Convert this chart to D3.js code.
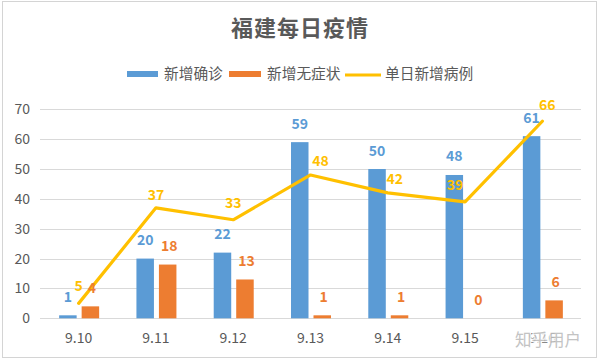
<!DOCTYPE html>
<html>
<head>
<meta charset="utf-8">
<script src="https://cdn.jsdelivr.net/npm/d3@7"></script>
<style>
  html, body { margin: 0; padding: 0; background: #fff; }
  svg { display: block; }
  text { font-family: "Noto Sans CJK SC", "Noto Sans", sans-serif; }
</style>
</head>
<body>
<script>
// ---- data ----
const categories = ["9.10", "9.11", "9.12", "9.13", "9.14", "9.15", "9.16"];
const confirmed = [1, 20, 22, 59, 50, 48, 61];
const asymptomatic = [4, 18, 13, 1, 1, 0, 6];
const dailyTotal = [5, 37, 33, 48, 42, 39, 66];
const seriesNames = ["新增确诊", "新增无症状", "单日新增病例"];
const yTicks = [0, 10, 20, 30, 40, 50, 60, 70];
const title = "福建每日疫情";

// ---- layout / style ----
const W = 600, H = 361;
const colors = { blue: "#5B9BD5", orange: "#ED7D31", yellow: "#FFC000" };
const lineLabelNudge = [[0, -12], [0, -8], [0, -12], [10, -9], [7, -9], [-10, -12], [5, -11]];

const svg = d3.select("body").append("svg").attr("width", W).attr("height", H);
svg.append("rect").attr("width", W).attr("height", H).attr("fill", "#fff");
svg.append("rect").attr("x", 2.5).attr("y", 1.5).attr("width", 594).attr("height", 356)
  .attr("fill", "none").attr("stroke", "#d4d4d4").attr("stroke-width", 1);

const x = d3.scaleBand().domain(categories).range([40, 581]).padding(0);
const y = d3.scaleLinear().domain([0, 70]).range([318.3, 109.3]);
const barGroup = d3.scaleBand().domain([0, 1]).range([0, 40]).paddingInner(0.222).paddingOuter(0);
const cx = c => x(c) + x.bandwidth() / 2;

// title
svg.append("text").attr("x", 300).attr("y", 36).attr("text-anchor", "middle")
  .attr("font-size", 22).attr("font-weight", "bold").attr("fill", "#595959")
  .attr("letter-spacing", 1).text(title);

// legend
const lg = svg.append("g");
lg.append("rect").attr("x", 127).attr("y", 71).attr("width", 31).attr("height", 6).attr("fill", colors.blue);
lg.append("text").attr("x", 164).attr("y", 79).attr("font-size", 14.7).attr("fill", "#595959").text(seriesNames[0]);
lg.append("rect").attr("x", 229).attr("y", 71).attr("width", 32).attr("height", 6).attr("fill", colors.orange);
lg.append("text").attr("x", 267).attr("y", 79).attr("font-size", 14.7).attr("fill", "#595959").text(seriesNames[1]);
lg.append("line").attr("x1", 345).attr("x2", 381).attr("y1", 75).attr("y2", 75)
  .attr("stroke", colors.yellow).attr("stroke-width", 3);
lg.append("text").attr("x", 385).attr("y", 79).attr("font-size", 14.7).attr("fill", "#595959").text(seriesNames[2]);

// gridlines
svg.append("g").selectAll("line").data(yTicks).join("line")
  .attr("x1", 40).attr("x2", 581)
  .attr("y1", d => Math.round(y(d)) + 0.5).attr("y2", d => Math.round(y(d)) + 0.5)
  .attr("stroke", "#d9d9d9").attr("stroke-width", 1);

// y axis labels
svg.append("g").selectAll("text").data(yTicks).join("text")
  .attr("x", 30).attr("y", d => y(d) + 5).attr("text-anchor", "end")
  .attr("font-size", 14).attr("fill", "#595959").text(d => d);

// x axis labels
svg.append("g").selectAll("text").data(categories).join("text")
  .attr("x", d => cx(d)).attr("y", 343).attr("text-anchor", "middle")
  .attr("font-size", 14).attr("fill", "#595959").text(d => d);

// bars
const barSeries = [
  { vals: confirmed, color: colors.blue, idx: 0 },
  { vals: asymptomatic, color: colors.orange, idx: 1 }
];
barSeries.forEach(s => {
  const g = svg.append("g");
  const rows = categories.map((c, i) => ({ c, v: s.vals[i] }));
  g.selectAll("rect").data(rows).join("rect")
    .attr("x", d => cx(d.c) - 19.5 + barGroup(s.idx))
    .attr("width", barGroup.bandwidth())
    .attr("y", d => y(d.v))
    .attr("height", d => y(0) - y(d.v))
    .attr("fill", s.color);
});

// line
const linePts = categories.map((c, i) => ({ c, v: dailyTotal[i] }));
svg.append("path").datum(linePts)
  .attr("d", d3.line().x(d => cx(d.c)).y(d => y(d.v)))
  .attr("fill", "none").attr("stroke", colors.yellow).attr("stroke-width", 3.2)
  .attr("stroke-linejoin", "round").attr("stroke-linecap", "round");

// bar labels
barSeries.forEach(s => {
  const rows = categories.map((c, i) => ({ c, v: s.vals[i] }));
  svg.append("g").selectAll("text").data(rows).join("text")
    .attr("x", d => cx(d.c) - 19.5 + barGroup(s.idx) + barGroup.bandwidth() / 2 + (s.idx === 1 ? 1.5 : 0))
    .attr("y", d => y(d.v) - 13.5)
    .attr("text-anchor", "middle").attr("font-size", 14).attr("font-weight", "bold")
    .attr("fill", s.color).text(d => d.v);
});

// line labels
svg.append("g").selectAll("text").data(linePts).join("text")
  .attr("x", (d, i) => cx(d.c) + lineLabelNudge[i][0])
  .attr("y", (d, i) => y(d.v) + lineLabelNudge[i][1])
  .attr("text-anchor", "middle").attr("font-size", 14).attr("font-weight", "bold")
  .attr("fill", colors.yellow).text(d => d.v);

// watermark
svg.append("text").attr("x", 548).attr("y", 346).attr("text-anchor", "middle")
  .attr("font-size", 16.5).attr("fill", "#bdbdbd").attr("stroke", "#ffffff")
  .attr("stroke-width", 2.5).attr("paint-order", "stroke").attr("opacity", 0.9)
  .text("知乎用户");
</script>
</body>
</html>
